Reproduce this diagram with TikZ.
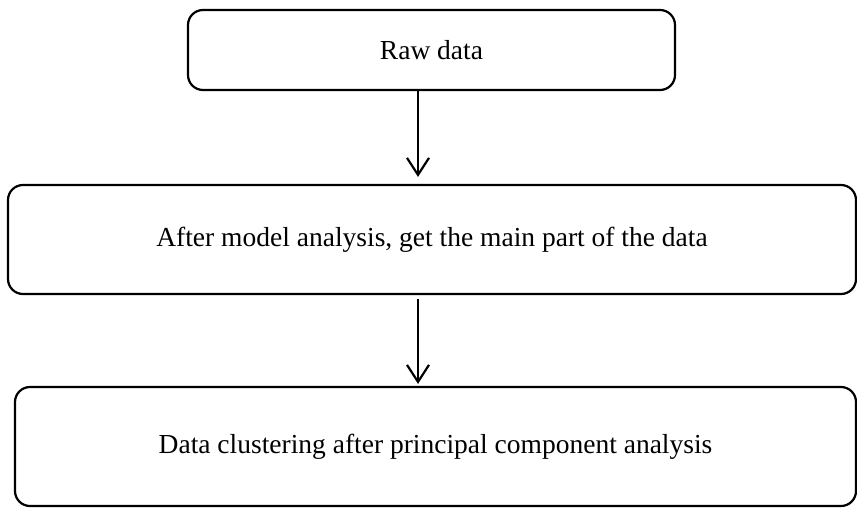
\documentclass[tikz,border=0pt]{standalone}
\usepackage{fontspec}
\setmainfont{Liberation Serif}
\usetikzlibrary{arrows.meta}

\begin{document}
\begin{tikzpicture}[x=1pt,y=-1pt,line width=2.2pt,
    box/.style={draw, rounded corners=15pt, inner sep=0pt, font=\fontsize{27.5}{33}\selectfont},
    flow/.style={-{Straight Barb[length=17pt,width=22pt,line width=2.2pt]}}]
                        \useasboundingbox (0,0) rectangle (857,507);
                        % Nodes
                        \node[box, minimum width=487pt, minimum height=80pt] (raw) at (431.5,50) {Raw data};
                        \node[box, minimum width=848pt, minimum height=109pt] (model) at (432,239.5) {After model analysis, get the main part of the data};
                        \node[box, minimum width=841pt, minimum height=119pt] (cluster) at (435.5,446.5) {Data clustering after principal component analysis};

                        % Edges
                        \draw[flow] ([xshift=-13.5pt]raw.south) -- ([xshift=-14pt,yshift=7pt]model.north);
                        \draw[flow] ([xshift=-14pt,yshift=-4pt]model.south) -- ([xshift=-17.5pt,yshift=2pt]cluster.north);
                    \end{tikzpicture}
\end{document}
